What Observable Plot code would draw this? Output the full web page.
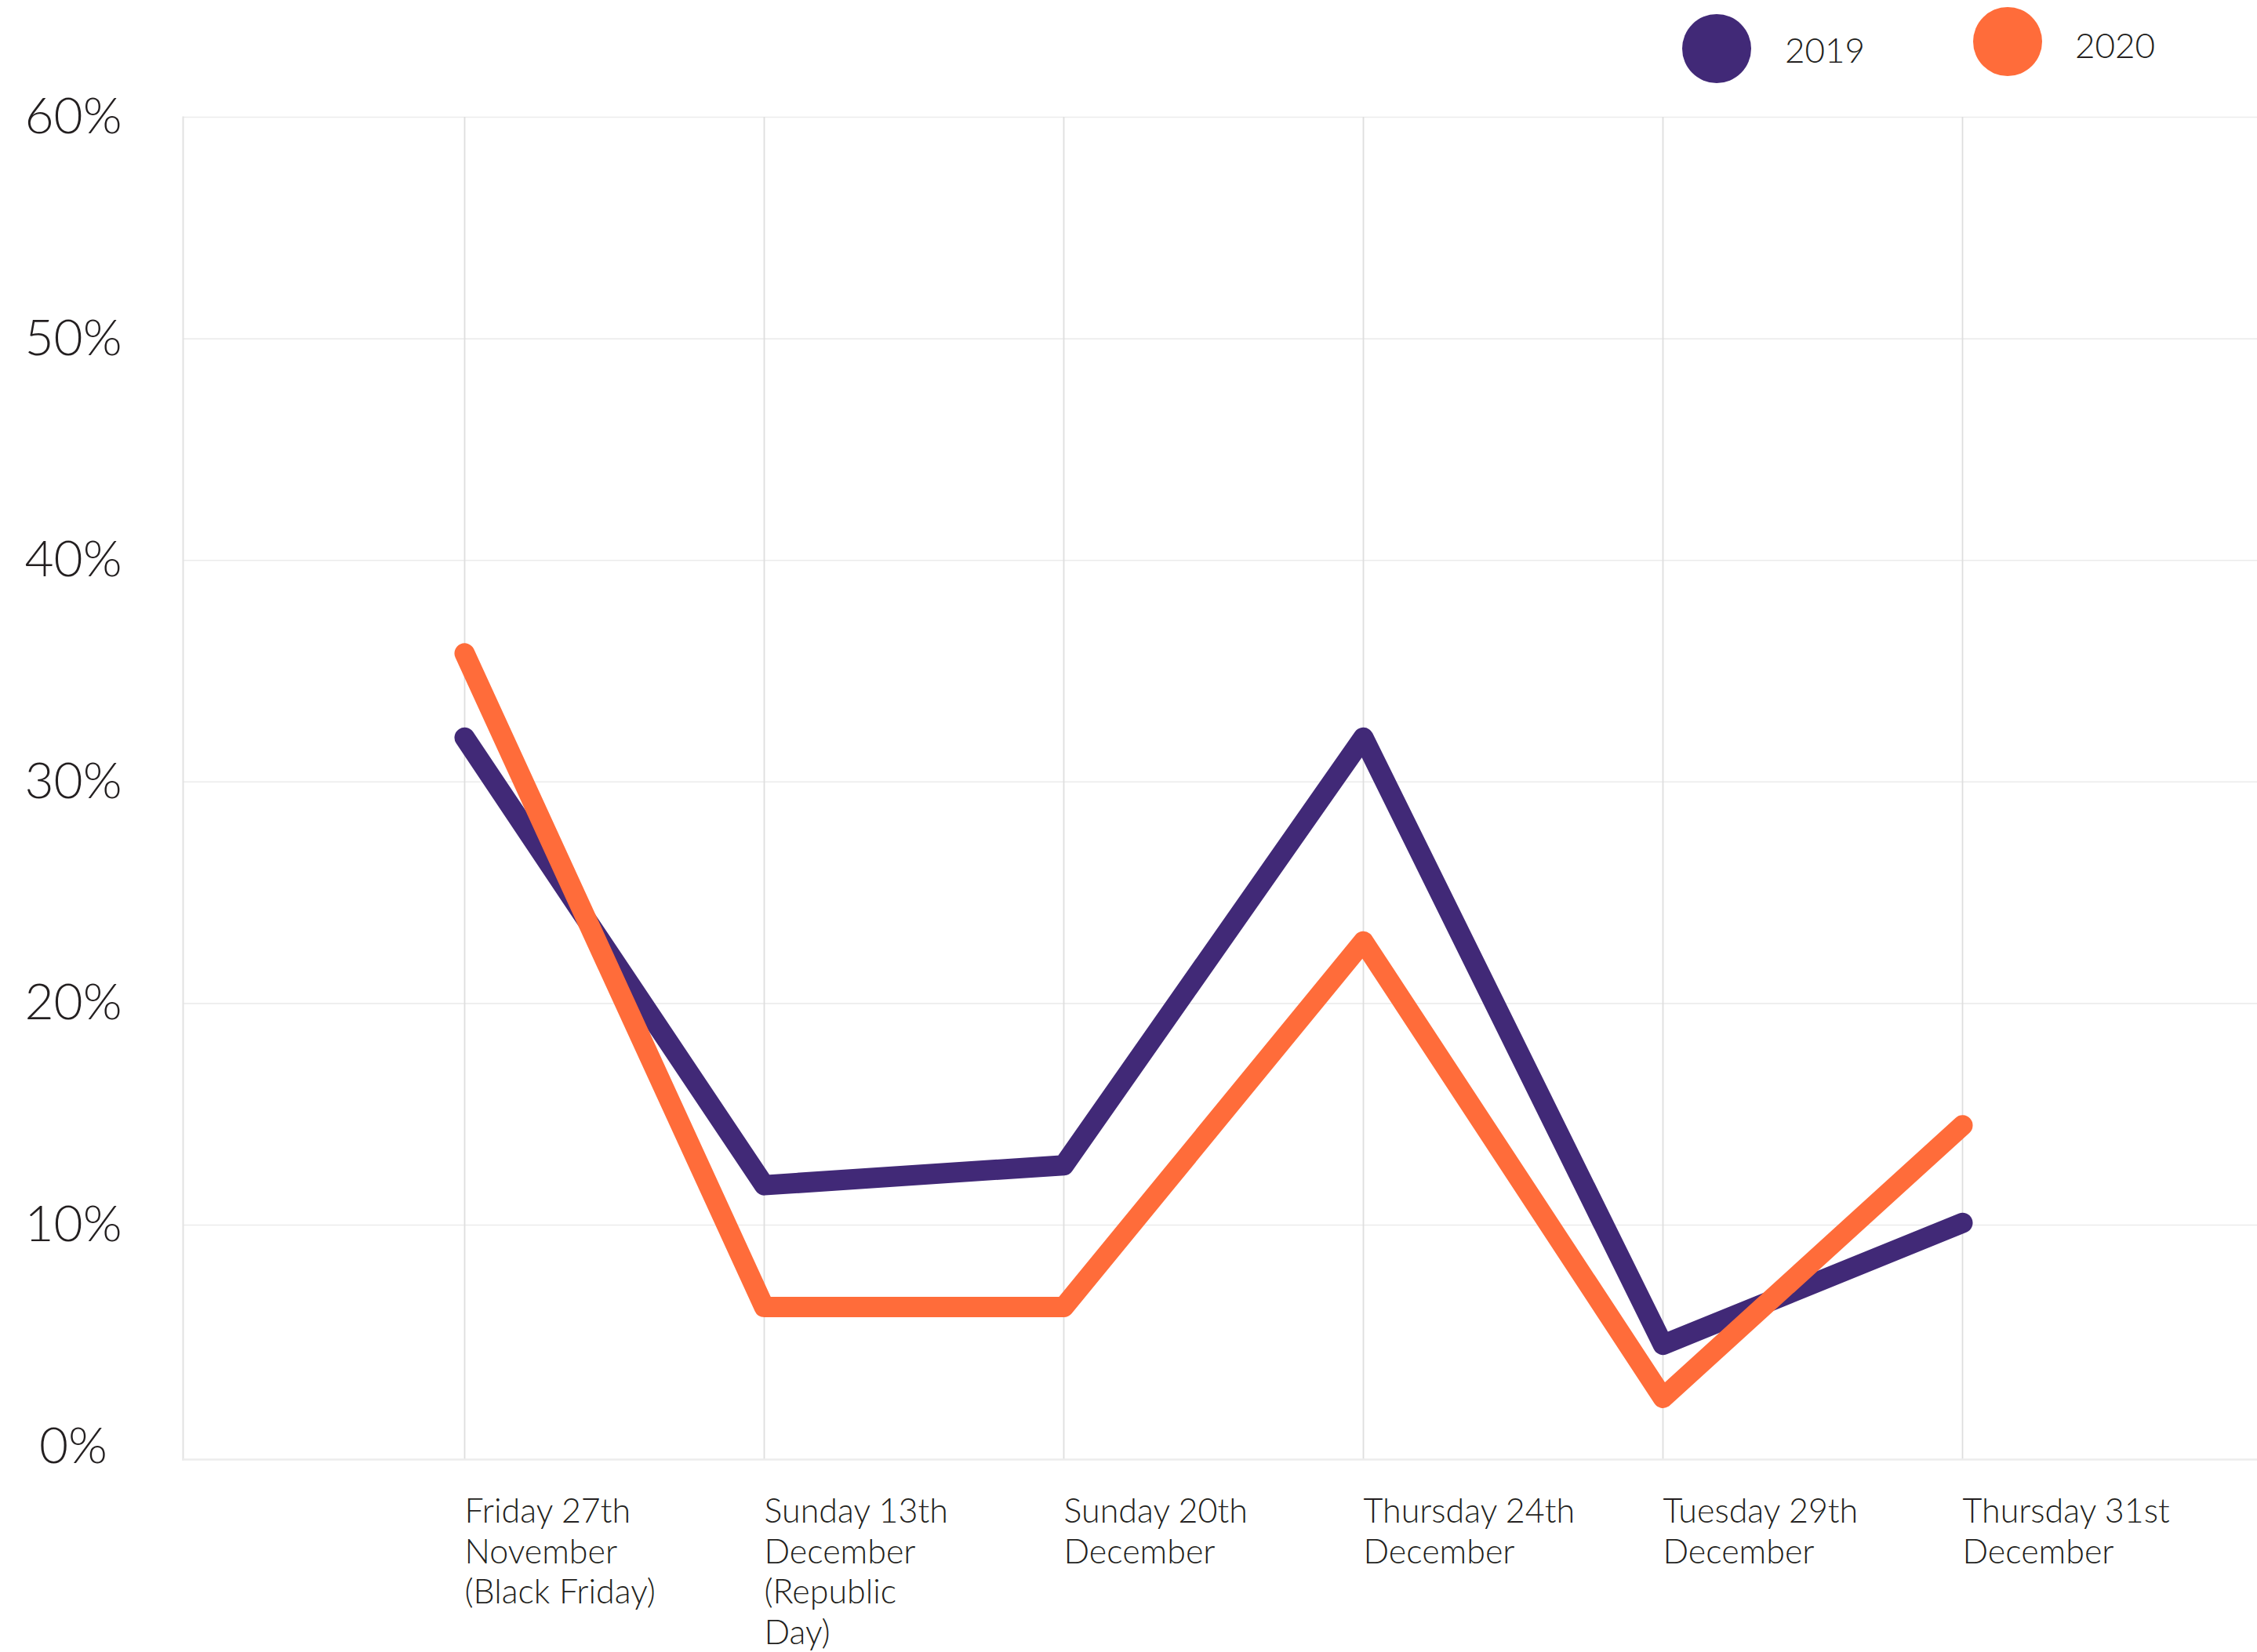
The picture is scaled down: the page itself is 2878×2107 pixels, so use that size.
<!DOCTYPE html>
<html><head><meta charset="utf-8">
<script src="https://cdn.jsdelivr.net/npm/d3@7"></script>
<script src="https://cdn.jsdelivr.net/npm/@observablehq/plot@0.6"></script>
<style>
html,body{margin:0;padding:0;background:#fff;}
#legend{position:relative;width:2878px;height:108px;font-family:Lato,sans-serif;font-weight:300;color:#231f20;}
.sw{position:absolute;border-radius:50%;width:88px;height:88px;}
.lb{position:absolute;font-size:44px;line-height:1;}
#chart svg{overflow:visible;display:block;}
</style></head><body>
<div id="legend"></div>
<div id="chart"></div>
<script>
const categories = [
  "Friday 27th\nNovember\n(Black Friday)",
  "Sunday 13th\nDecember\n(Republic\nDay)",
  "Sunday 20th\nDecember",
  "Thursday 24th\nDecember",
  "Tuesday 29th\nDecember",
  "Thursday 31st\nDecember"
];
const series = ["2019", "2020"];
const seriesColors = ["#412977", "#FF6C3A"];
const values2019 = [32.0, 11.8, 12.7, 32.0, 4.6, 10.1];
const values2020 = [35.8, 6.3, 6.3, 22.8, 2.2, 14.5];
const yTicks = [0, 10, 20, 30, 40, 50, 60];
const gridTicks = [10, 20, 30, 40, 50, 60];

const data = [];
categories.forEach((c, i) => data.push({date: c, value: values2019[i], series: series[0]}));
categories.forEach((c, i) => data.push({date: c, value: values2020[i], series: series[1]}));

// legend (HTML, above the SVG)
const legendPos = [{cx: 2145, cy: 18, tx: 2276, ty: 41}, {cx: 2516, cy: 9, tx: 2646, ty: 35}];
const legend = document.getElementById("legend");
series.forEach((s, i) => {
  const sw = document.createElement("div");
  sw.className = "sw";
  sw.style.left = legendPos[i].cx + "px";
  sw.style.top = legendPos[i].cy + "px";
  sw.style.background = seriesColors[i];
  legend.appendChild(sw);
  const lb = document.createElement("div");
  lb.className = "lb";
  lb.style.left = legendPos[i].tx + "px";
  lb.style.top = legendPos[i].ty + "px";
  lb.textContent = s;
  legend.appendChild(lb);
});

const W = 2878, H = 1999;
const chart = Plot.plot({
  width: W,
  height: H,
  marginLeft: 233,
  marginRight: 0,
  marginTop: 41,
  marginBottom: H - 1753,
  style: {fontFamily: "Lato, sans-serif", fontWeight: 300, color: "#231f20", background: "#fff", overflow: "visible"},
  x: {type: "point", domain: categories, range: [591, 2502], padding: 0, label: null},
  y: {domain: [0, 60], range: [1736.6, 41], label: null},
  color: {domain: series, range: seriesColors},
  marks: [
    Plot.ruleY(gridTicks, {stroke: "#ececec", strokeWidth: 1.6}),
    Plot.ruleX(categories, {stroke: "#dedede", strokeWidth: 1.8}),
    Plot.frame({anchor: "left", stroke: "#e2e2e2", strokeWidth: 2}),
    Plot.frame({anchor: "bottom", stroke: "#ececec", strokeWidth: 2.5}),
    Plot.axisY(yTicks, {tickSize: 0, tickPadding: 140, textAnchor: "middle", tickFormat: d => d + "%", fontSize: 64, fill: "#231f20", label: null}),
    Plot.axisX(categories, {tickSize: 0, tickPadding: 44, textAnchor: "start", lineAnchor: "top", lineHeight: 1.2, fontSize: 43, fill: "#231f20", tickFormat: d => d, label: null}),
    Plot.line(data, {x: "date", y: "value", z: "series", stroke: "series", strokeWidth: 26, strokeLinecap: "round", strokeLinejoin: "round"})
  ]
});
document.getElementById("chart").appendChild(chart);
</script>
</body></html>
